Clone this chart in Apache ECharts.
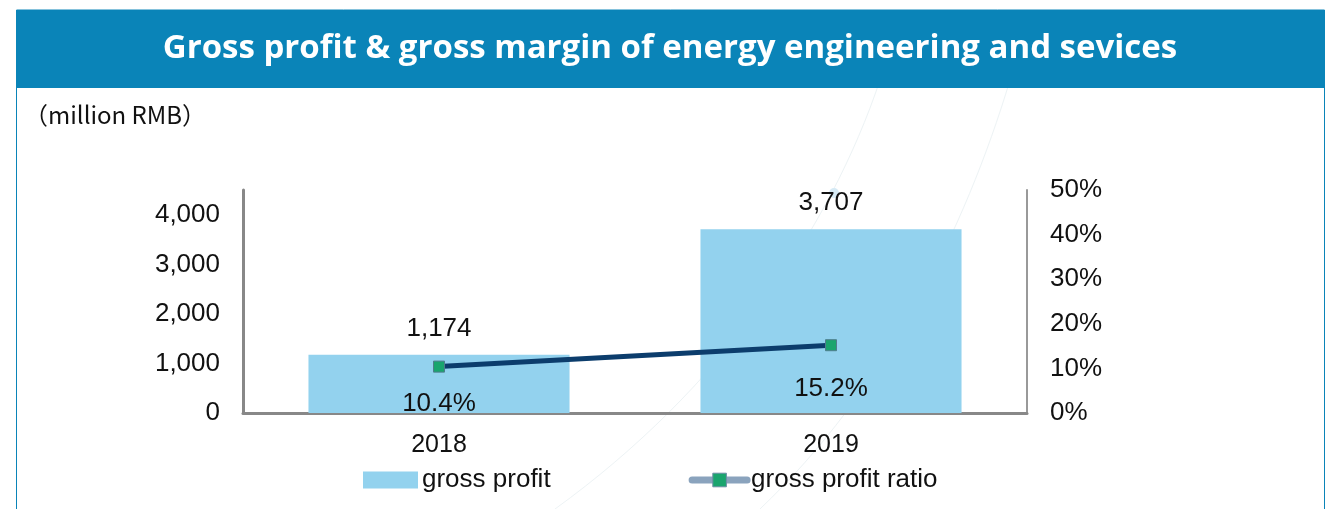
<!DOCTYPE html>
<html>
<head>
<meta charset="utf-8">
<script src="https://cdn.jsdelivr.net/npm/echarts@6/dist/echarts.min.js"></script>
<style>
html,body{margin:0;padding:0;background:#fff;}
#c{width:1335px;height:509px;}
</style>
</head>
<body>
<div id="c"></div>
<script>
const titleText = 'Gross profit & gross margin of energy engineering and sevices';
const unitText = '（million RMB）';
const categories = ['2018', '2019'];
const grossProfit = [1174, 3707];
const grossRatio = [0.104, 0.152];
const leftTicks = [0, 1000, 2000, 3000, 4000];
const rightTicks = [0, 0.1, 0.2, 0.3, 0.4, 0.5];
const seriesNames = ['gross profit', 'gross profit ratio'];

const ratioLabelDist = [18, 25];

const chart = echarts.init(document.getElementById('c'), null, {renderer: 'canvas'});
const fam = 'Liberation Sans, Arial, sans-serif';
const tickFont = {fontFamily: fam, fontSize: 26, color: '#111'};

chart.setOption({
  animation: false,
  backgroundColor: '#fff',
  graphic: [
    {type: 'bezierCurve', shape: {x1: 880, y1: 80, cpx1: 830, cpy1: 230, cpx2: 720, cpy2: 390, x2: 555, y2: 509}, style: {stroke: '#edf3f5', lineWidth: 1, fill: 'none'}, z: 0},
    {type: 'bezierCurve', shape: {x1: 1010, y1: 80, cpx1: 965, cpy1: 230, cpx2: 885, cpy2: 390, x2: 760, y2: 509}, style: {stroke: '#edf3f5', lineWidth: 1, fill: 'none'}, z: 0},
    {type: 'circle', shape: {cx: 834, cy: 193, r: 5}, style: {fill: '#d6eaf5'}, z: 0},
    {type: 'rect', shape: {x: 16.5, y: 10, width: 1308, height: 520}, style: {fill: 'none', stroke: '#0a84b8', lineWidth: 1}, z: 0},
    {type: 'rect', shape: {x: 16, y: 10, width: 1309, height: 78}, style: {fill: '#0a84b8'}, z: 1},
    {type: 'text', x: 670, y: 49, style: {text: titleText, fill: '#fff', font: 'bold 33px "Open Sans", "Noto Sans", sans-serif', textAlign: 'center', textVerticalAlign: 'middle'}, z: 2},
    {type: 'text', x: 24, y: 115, style: {text: unitText, fill: '#111', font: '24px "Noto Sans CJK SC", "Open Sans", sans-serif', textAlign: 'left', textVerticalAlign: 'middle'}, z: 2}
  ],
  legend: {
    bottom: 11,
    left: 358,
    itemGap: 138,
    itemWidth: 55,
    itemHeight: 17,
    textStyle: {fontFamily: fam, fontSize: 26, color: '#111', padding: [0, 0, 0, -1]},
    data: [
      {name: seriesNames[0], icon: 'rect'},
      {name: seriesNames[1], lineStyle: {color: '#8aa3bd', width: 7, cap: 'round'}, itemStyle: {color: '#1aa56e', borderColor: '#6d8fa6', borderWidth: 1}}
    ]
  },
  grid: {left: 243, right: 308, top: 190, bottom: 96},
  xAxis: {
    type: 'category',
    data: categories,
    axisLine: {lineStyle: {color: '#888', width: 3}},
    axisTick: {show: false},
    axisLabel: {margin: 20, fontSize: 25, fontFamily: fam, color: '#111'}
  },
  yAxis: [
    {
      type: 'value', min: 0, max: 4500, interval: 1000,
      axisLine: {show: true, lineStyle: {color: '#888', width: 3}},
      axisTick: {show: false},
      splitLine: {show: false},
      axisLabel: Object.assign({margin: 23, formatter: v => leftTicks.indexOf(v) >= 0 ? v.toLocaleString('en-US') : ''}, tickFont)
    },
    {
      type: 'value', min: 0, max: 0.5, interval: 0.1,
      axisLine: {show: true, lineStyle: {color: '#999', width: 2}},
      axisTick: {show: false},
      splitLine: {show: false},
      axisLabel: Object.assign({margin: 23, formatter: v => rightTicks.some(t => Math.abs(t - v) < 1e-9) ? Math.round(v * 100) + '%' : ''}, tickFont)
    }
  ],
  series: [
    {
      name: seriesNames[0],
      type: 'bar',
      data: grossProfit,
      barWidth: '66.6%',
      itemStyle: {color: '#93d2ee'},
      label: Object.assign({show: true, position: 'top', distance: 13, formatter: p => p.value.toLocaleString('en-US')}, tickFont)
    },
    {
      name: seriesNames[1],
      type: 'line',
      yAxisIndex: 1,
      data: grossRatio.map((v, i) => ({value: v, label: {distance: ratioLabelDist[i]}})),
      symbol: 'rect',
      symbolSize: 11,
      lineStyle: {color: '#0c3d6c', width: 5},
      itemStyle: {color: '#1aa56e', borderColor: '#4f7d8c', borderWidth: 1},
      label: Object.assign({show: true, position: 'bottom', formatter: p => (p.value * 100).toFixed(1) + '%'}, tickFont),
      z: 3
    }
  ]
});
</script>
</body>
</html>
